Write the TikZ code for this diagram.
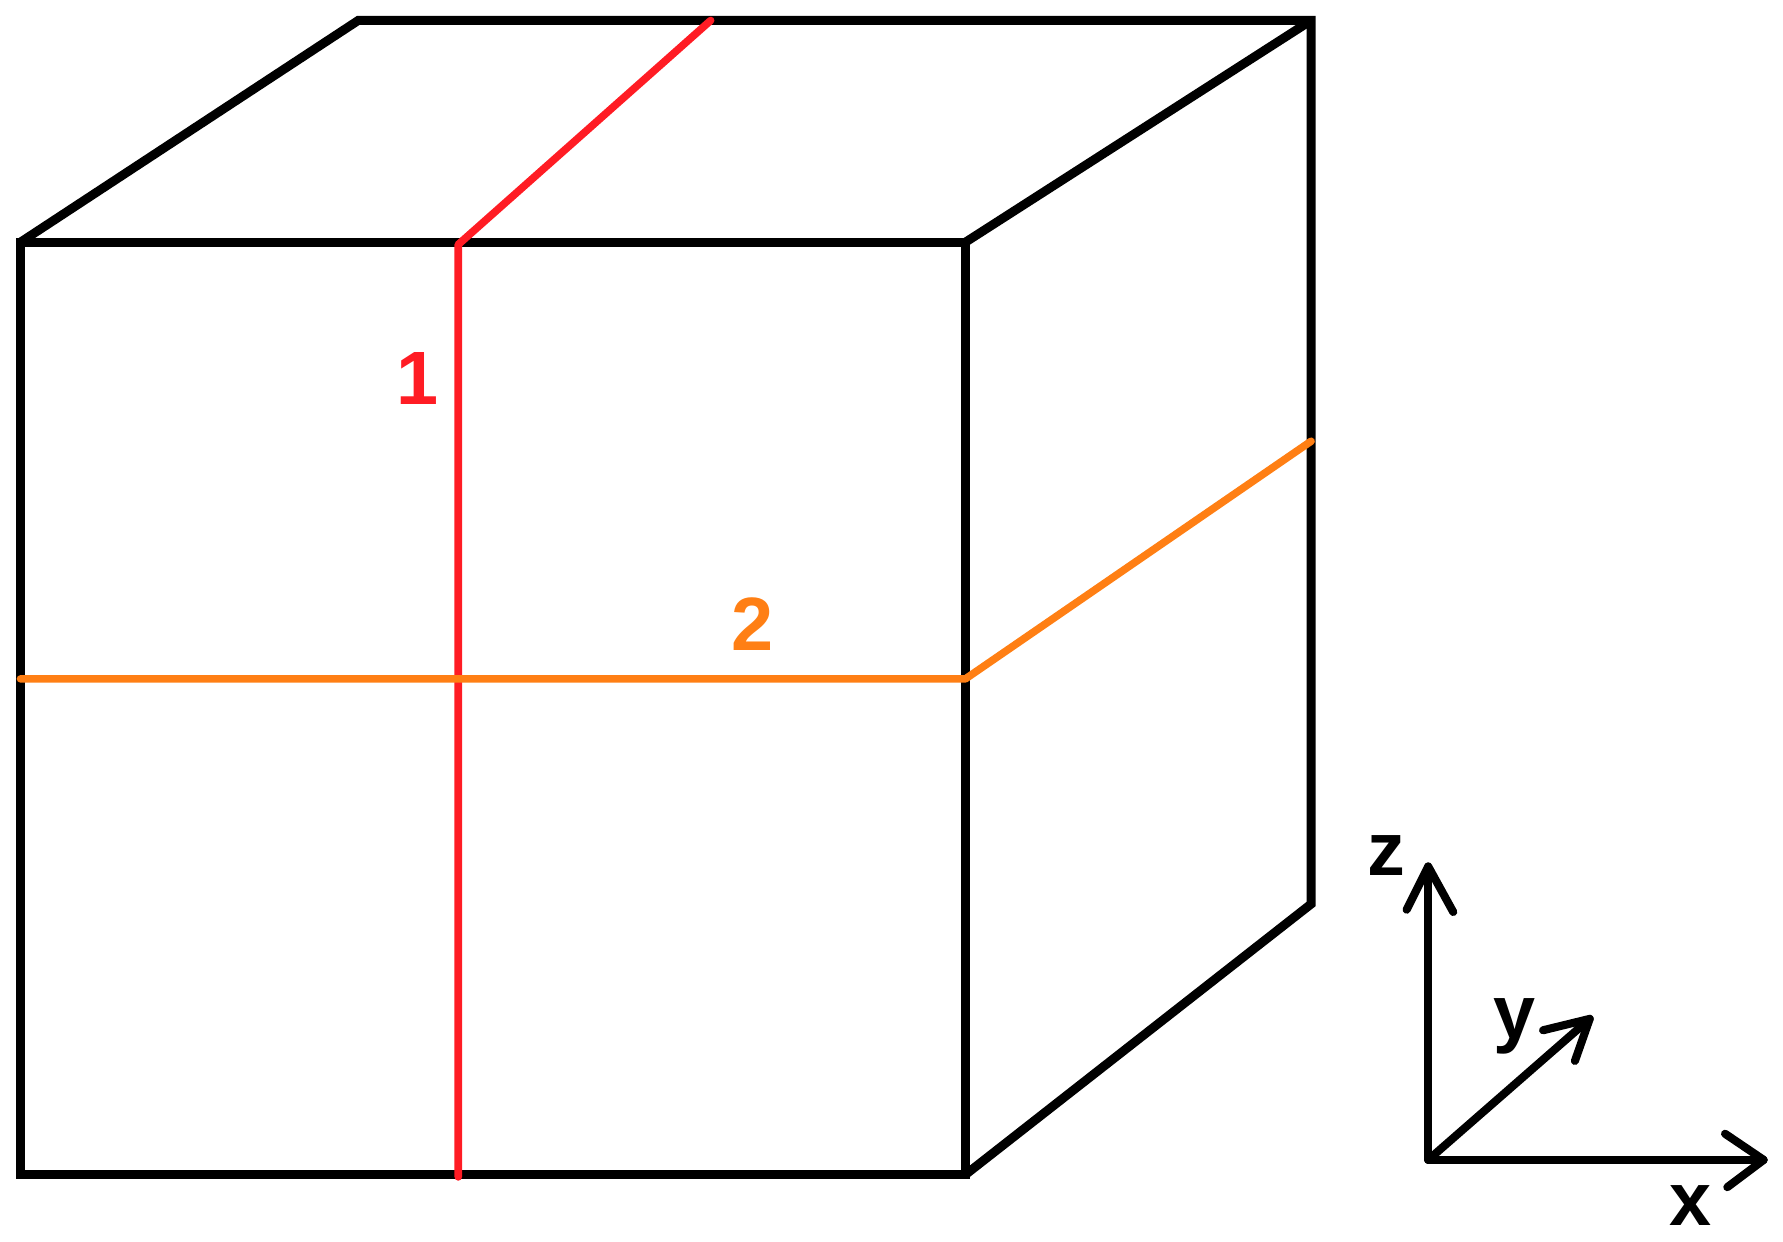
\documentclass[tikz,border=0pt]{standalone}
\usepackage{fontspec}
\setmainfont{Liberation Sans}
\definecolor{cred}{RGB}{255,28,36}
\definecolor{corange}{RGB}{255,127,20}
\begin{document}
\begin{tikzpicture}[x=0.02274cm,y=-0.02274cm,
  edge/.style={line width=5.1pt,black,line cap=butt,line join=miter},
  redline/.style={line width=4.3pt,cred,line cap=round,line join=round},
  orline/.style={line width=4.3pt,corange,line cap=round,line join=round},
  axis/.style={line width=4.6pt,black,line cap=round,line join=round},
  lbl/.style={font=\fontsize{43}{43}\selectfont\bfseries,inner sep=0pt}]
\useasboundingbox (0,0) rectangle (1568,1092);
% cube corners
\coordinate (FTL) at (18,213);
\coordinate (FTR) at (849,213);
\coordinate (FBR) at (849,1033);
\coordinate (FBL) at (18,1033);
\coordinate (BTL) at (315,18);
\coordinate (BTR) at (1153,18);
\coordinate (BBR) at (1153,795);
% cube
\draw[edge] (FTL) -- (FTR) -- (FBR) -- (FBL) -- cycle;
\draw[edge] (FTL) -- (BTL) -- (BTR) -- (BBR) -- (FBR);
\draw[edge] (FTR) -- (BTR);
% red line 1
\coordinate (R1) at (403,1035);
\coordinate (R2) at (403,215);
\coordinate (R3) at (625,18);
\draw[redline] (R1) -- (R2) -- (R3);
% orange line 2
\coordinate (O1) at (18,597);
\coordinate (O2) at (849,597);
\coordinate (O3) at (1153,388);
\draw[orline] (O1) -- (O2) -- (O3);
% labels
\node[lbl,text=cred] (l1) at (367,333) {1};
\node[lbl,text=corange] (l2) at (662,549) {2};
% axes
\coordinate (O) at (1256,1020);
\coordinate (Z) at (1256,762);
\coordinate (X) at (1551,1020);
\coordinate (Y) at (1398,896);
\draw[axis] (O) -- (Z);
\draw[axis] (O) -- (X);
\draw[axis] (O) -- (Y);
\draw[axis] (1237,800) -- (Z) -- (1278,802);
\draw[axis] (1517,997) -- (X) -- (1519,1044);
\draw[axis] (1357,906) -- (Y) -- (1385,933);
\node[lbl] (lz) at (1219,752) {z};
\node[lbl] (ly) at (1332,903) {y};
\node[lbl] (lx) at (1487,1060) {x};
\end{tikzpicture}
\end{document}
